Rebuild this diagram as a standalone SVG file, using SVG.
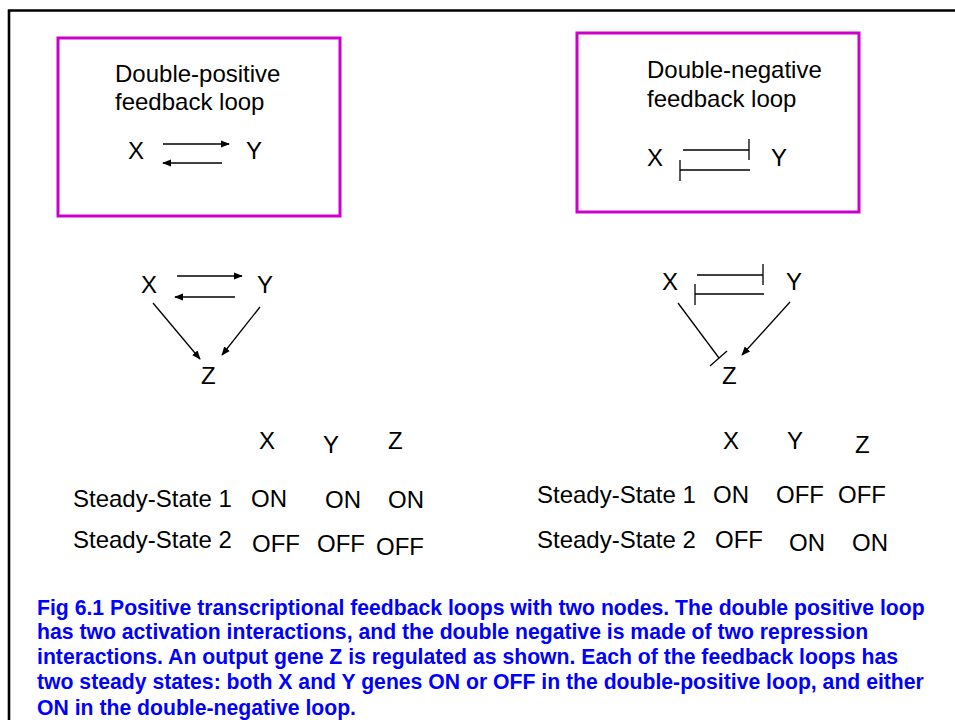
<svg xmlns="http://www.w3.org/2000/svg" width="955" height="720" viewBox="0 0 955 720">
  <style>
    .lbl { font-family: "Liberation Sans", Arial, sans-serif; font-size: 24px; fill: #000; }
    .tbl { font-family: "Liberation Sans", Arial, sans-serif; font-size: 24px; fill: #000; }
    .cap { font-family: "Liberation Sans", Arial, sans-serif; font-size: 21.2px; font-weight: bold; fill: #0000ff; }
    .box { fill: none; stroke: #cc00cc; stroke-width: 3; }
    .edge { fill: none; stroke: #000; stroke-width: 1.3; }
    .act { marker-end: url(#arrow); }
  </style>
  <defs>
    <marker id="arrow" viewBox="0 0 10 10" refX="9" refY="5" markerWidth="9" markerHeight="9" markerUnits="userSpaceOnUse" orient="auto">
      <path d="M0,1 L10,5 L0,9 Z" fill="#000"/>
    </marker>
  </defs>

  <rect width="955" height="720" fill="#fff"/>
  <!-- outer frame -->
  <path d="M9,722 L9,10.5 L958,10.5" fill="none" stroke="#000" stroke-width="2.6"/>

  <!-- double-positive panel -->
  <g id="panel-positive">
    <rect class="box" x="58" y="38" width="282" height="178"/>
    <text class="lbl" x="115" y="82">Double-positive</text>
    <text class="lbl" x="115" y="110">feedback loop</text>
    <text class="lbl" x="128" y="159">X</text>
    <text class="lbl" x="246" y="159">Y</text>
  </g>

  <!-- double-negative panel -->
  <g id="panel-negative">
    <rect class="box" x="577" y="33" width="282" height="179"/>
    <text class="lbl" x="647" y="78">Double-negative</text>
    <text class="lbl" x="647" y="107">feedback loop</text>
    <text class="lbl" x="647" y="166">X</text>
    <text class="lbl" x="771" y="166">Y</text>
  </g>

  <!-- positive three-node circuit -->
  <g id="node-x-pos"><text class="lbl" x="141" y="293">X</text></g>
  <g id="node-y-pos"><text class="lbl" x="257" y="293">Y</text></g>
  <g id="node-z-pos"><text class="lbl" x="201" y="384">Z</text></g>

  <!-- negative three-node circuit -->
  <g id="node-x-neg"><text class="lbl" x="662" y="290">X</text></g>
  <g id="node-y-neg"><text class="lbl" x="786" y="290">Y</text></g>
  <g id="node-z-neg"><text class="lbl" x="722" y="384">Z</text></g>

  <g id="connectors">
    <!-- panel arrows -->
    <line class="edge act" x1="163" y1="144" x2="229" y2="144"/>
    <line class="edge act" x1="222" y1="163" x2="163" y2="163"/>
    <line class="edge" x1="683" y1="150" x2="749" y2="150"/>
    <line class="edge" x1="749" y1="139" x2="749" y2="160"/>
    <line class="edge" x1="680" y1="170" x2="750" y2="170"/>
    <line class="edge" x1="680" y1="160" x2="680" y2="181"/>

    <!-- positive circuit -->
    <line class="edge act" x1="177" y1="276" x2="242" y2="276"/>
    <line class="edge act" x1="235" y1="297" x2="175" y2="297"/>
    <line class="edge act" x1="153" y1="303" x2="200" y2="359"/>
    <line class="edge act" x1="260" y1="307" x2="222" y2="355"/>

    <!-- negative circuit -->
    <line class="edge" x1="697" y1="275" x2="763" y2="275"/>
    <line class="edge" x1="763" y1="264" x2="763" y2="285"/>
    <line class="edge" x1="695" y1="294" x2="764" y2="294"/>
    <line class="edge" x1="695" y1="284" x2="695" y2="305"/>
    <line class="edge" x1="678" y1="303" x2="719" y2="358"/>
    <line class="edge" x1="710" y1="366" x2="727" y2="351"/>
    <line class="edge act" x1="790" y1="302" x2="742" y2="355"/>
  </g>

  <!-- steady-state table, double-positive -->
  <g id="table-positive">
    <text class="tbl" x="259" y="449">X</text>
    <text class="tbl" x="323" y="453">Y</text>
    <text class="tbl" x="388" y="449">Z</text>
    <text class="tbl" x="73" y="507">Steady-State 1</text>
    <text class="tbl" x="251" y="507">ON</text>
    <text class="tbl" x="325" y="508">ON</text>
    <text class="tbl" x="388" y="508">ON</text>
    <text class="tbl" x="73" y="548">Steady-State 2</text>
    <text class="tbl" x="252" y="552">OFF</text>
    <text class="tbl" x="317" y="552">OFF</text>
    <text class="tbl" x="376" y="555">OFF</text>
  </g>

  <!-- steady-state table, double-negative -->
  <g id="table-negative">
    <text class="tbl" x="723" y="449">X</text>
    <text class="tbl" x="787" y="449">Y</text>
    <text class="tbl" x="855" y="453">Z</text>
    <text class="tbl" x="537" y="503">Steady-State 1</text>
    <text class="tbl" x="713" y="503">ON</text>
    <text class="tbl" x="776" y="503">OFF</text>
    <text class="tbl" x="838" y="503">OFF</text>
    <text class="tbl" x="537" y="548">Steady-State 2</text>
    <text class="tbl" x="715" y="548">OFF</text>
    <text class="tbl" x="789" y="551">ON</text>
    <text class="tbl" x="852" y="551">ON</text>
  </g>

  <!-- figure caption -->
  <g id="caption">
    <text class="cap" x="37" y="615">Fig 6.1 Positive transcriptional feedback loops with two nodes. The double positive loop</text>
    <text class="cap" x="37" y="639">has two activation interactions, and the double negative is made of two repression</text>
    <text class="cap" x="37" y="664">interactions. An output gene Z is regulated as shown. Each of the feedback loops has</text>
    <text class="cap" x="37" y="689">two steady states: both X and Y genes ON or OFF in the double-positive loop, and either</text>
    <text class="cap" x="37" y="715">ON in the double-negative loop.</text>
  </g>
</svg>
